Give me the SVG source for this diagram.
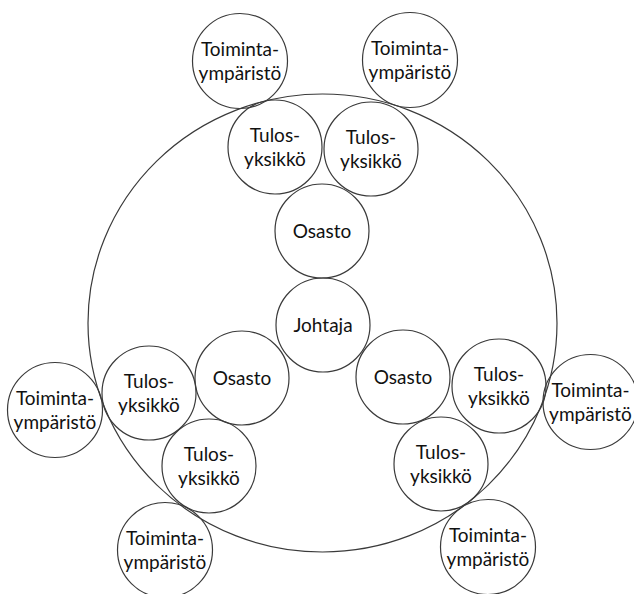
<svg xmlns="http://www.w3.org/2000/svg" width="634" height="594" viewBox="0 0 634 594">
  <style>
    .c { fill: none; stroke: #3a3a3a; stroke-width: 1.2; }
    .t { font-family: Lato, "Liberation Sans", Arial, sans-serif; font-size: 19px; fill: #111; text-anchor: middle; }
  </style>
  <rect width="634" height="594" fill="#ffffff"/>

  <!-- organisation boundary -->
  <g id="organisaatio">
    <ellipse class="c" cx="322.5" cy="323" rx="234.5" ry="229"/>
  </g>

  <!-- centre -->
  <g id="johtaja">
    <circle class="c" cx="323" cy="325" r="47"/>
    <text class="t" x="323" y="332">Johtaja</text>
  </g>

  <!-- departments -->
  <g id="osasto-ylä">
    <circle class="c" cx="322" cy="231" r="47"/>
    <text class="t" x="322" y="238">Osasto</text>
  </g>
  <g id="osasto-vasen">
    <circle class="c" cx="242" cy="378" r="47"/>
    <text class="t" x="242" y="385">Osasto</text>
  </g>
  <g id="osasto-oikea">
    <circle class="c" cx="403" cy="377" r="47"/>
    <text class="t" x="403" y="384">Osasto</text>
  </g>

  <!-- result units -->
  <g id="tulos-1">
    <circle class="c" cx="275" cy="147" r="47"/>
    <text class="t" x="275" y="142">Tulos-</text>
    <text class="t" x="275" y="166">yksikkö</text>
  </g>
  <g id="tulos-2">
    <circle class="c" cx="371" cy="149" r="47"/>
    <text class="t" x="371" y="144">Tulos-</text>
    <text class="t" x="371" y="168">yksikkö</text>
  </g>
  <g id="tulos-3">
    <circle class="c" cx="149" cy="393" r="47"/>
    <text class="t" x="149" y="388">Tulos-</text>
    <text class="t" x="149" y="412">yksikkö</text>
  </g>
  <g id="tulos-4">
    <circle class="c" cx="209" cy="466" r="47"/>
    <text class="t" x="209" y="461">Tulos-</text>
    <text class="t" x="209" y="485">yksikkö</text>
  </g>
  <g id="tulos-5">
    <circle class="c" cx="499" cy="386" r="47"/>
    <text class="t" x="499" y="381">Tulos-</text>
    <text class="t" x="499" y="405">yksikkö</text>
  </g>
  <g id="tulos-6">
    <circle class="c" cx="441" cy="464" r="47"/>
    <text class="t" x="441" y="459">Tulos-</text>
    <text class="t" x="441" y="483">yksikkö</text>
  </g>

  <!-- operating environments -->
  <g id="ympäristö-1">
    <circle class="c" cx="240" cy="61" r="47.5"/>
    <text class="t" x="240" y="56">Toiminta-</text>
    <text class="t" x="240" y="80">ympäristö</text>
  </g>
  <g id="ympäristö-2">
    <circle class="c" cx="410" cy="60" r="47.5"/>
    <text class="t" x="410" y="55">Toiminta-</text>
    <text class="t" x="410" y="79">ympäristö</text>
  </g>
  <g id="ympäristö-3">
    <circle class="c" cx="55" cy="410" r="47.5"/>
    <text class="t" x="55" y="405">Toiminta-</text>
    <text class="t" x="55" y="429">ympäristö</text>
  </g>
  <g id="ympäristö-4">
    <circle class="c" cx="590.5" cy="402" r="47.5"/>
    <text class="t" x="590.5" y="397">Toiminta-</text>
    <text class="t" x="590.5" y="421">ympäristö</text>
  </g>
  <g id="ympäristö-5">
    <circle class="c" cx="165" cy="550" r="47.5"/>
    <text class="t" x="165" y="545">Toiminta-</text>
    <text class="t" x="165" y="569">ympäristö</text>
  </g>
  <g id="ympäristö-6">
    <circle class="c" cx="488" cy="547" r="47.5"/>
    <text class="t" x="488" y="542">Toiminta-</text>
    <text class="t" x="488" y="566">ympäristö</text>
  </g>
</svg>
